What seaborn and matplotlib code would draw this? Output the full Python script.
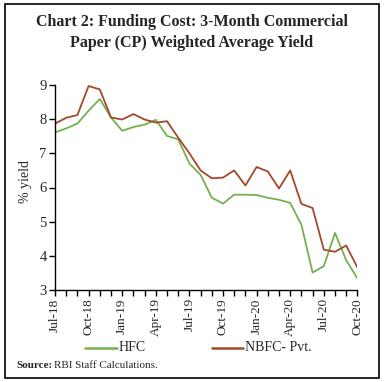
import matplotlib
matplotlib.use("Agg")
import matplotlib.pyplot as plt
import seaborn as sns
import pandas as pd
from matplotlib.patches import Rectangle
from matplotlib.lines import Line2D

months = ["Jul-18", "Aug-18", "Sep-18", "Oct-18", "Nov-18", "Dec-18",
          "Jan-19", "Feb-19", "Mar-19", "Apr-19", "May-19", "Jun-19",
          "Jul-19", "Aug-19", "Sep-19", "Oct-19", "Nov-19", "Dec-19",
          "Jan-20", "Feb-20", "Mar-20", "Apr-20", "May-20", "Jun-20",
          "Jul-20", "Aug-20", "Sep-20", "Oct-20"]
hfc = [7.61, 7.73, 7.87, 8.25, 8.59, 8.05, 7.66, 7.77, 7.84, 7.98,
       7.51, 7.41, 6.70, 6.37, 5.70, 5.53, 5.79, 5.79, 5.78, 5.70,
       5.64, 5.55, 4.91, 3.51, 3.70, 4.67, 3.87, 3.34]
nbfc = [7.87, 8.04, 8.12, 8.97, 8.87, 8.05, 7.99, 8.15, 7.99, 7.90,
        7.94, 7.46, 7.00, 6.50, 6.27, 6.29, 6.50, 6.06, 6.60, 6.47,
        5.97, 6.50, 5.52, 5.40, 4.18, 4.12, 4.30, 3.66]
series_names = ["HFC", "NBFC- Pvt."]
colors = ["#76B04E", "#A5482A"]
label_months = months[::3]
yticks = [3, 4, 5, 6, 7, 8, 9]

sns.set_style("white")
plt.rcParams['font.family'] = ['Liberation Serif', 'DejaVu Serif']

df = pd.DataFrame({
    "x": list(range(len(months))) * 2,
    "value": hfc + nbfc,
    "series": [series_names[0]] * len(months) + [series_names[1]] * len(months),
})

fig = plt.figure(figsize=(3.84, 3.82), dpi=100)
ax = fig.add_axes([55/384, 1 - 290/382, (357.4 - 55)/384, (290 - 85)/382])
sns.lineplot(data=df, x="x", y="value", hue="series", palette=colors,
             linewidth=1.3, legend=False, ax=ax)

ax.set_xlim(0, len(months) - 1)
ax.set_ylim(3, 9)
ax.set_yticks(yticks)
ax.set_yticklabels([str(v) for v in yticks], fontsize=10.5)
ax.set_xticks(range(len(months)))
ax.set_xticklabels([m if m in label_months else "" for m in months],
                   rotation=90, fontsize=9.5)
ax.tick_params(axis="both", direction="out", length=4, width=1, color="black",
               left=True, bottom=True, pad=2)
ax.set_xlabel("")
ax.set_ylabel("% yield", fontsize=10)
ax.yaxis.label.set_va("center")
ax.yaxis.set_label_coords((25 - 55) / (357.4 - 55), 0.53)
for s in ["top", "right"]:
    ax.spines[s].set_visible(False)
for s in ["left", "bottom"]:
    ax.spines[s].set_color("black")
    ax.spines[s].set_linewidth(1)

fig.text(0.5, 1 - 22/382, "Chart 2: Funding Cost: 3-Month Commercial",
         ha="center", va="center", fontsize=11.5, fontweight="bold")
fig.text(0.5, 1 - 43/382, "Paper (CP) Weighted Average Yield",
         ha="center", va="center", fontsize=11.5, fontweight="bold")

# legend
ly = 1 - 347.5/382
fig.add_artist(Line2D([85/384, 117/384], [ly, ly], color=colors[0], lw=1.8))
fig.text(119/384, ly, series_names[0], ha="left", va="center", fontsize=10)
fig.add_artist(Line2D([212/384, 243/384], [ly, ly], color=colors[1], lw=1.8))
fig.text(245/384, ly, series_names[1], ha="left", va="center", fontsize=10)

# source
sy = 1 - 365/382
t = fig.text(16/384, sy, "Source:", ha="left", va="center", fontsize=8, fontweight="bold")
fig.canvas.draw()
bb = t.get_window_extent()
fig.text(bb.x1/384 + 2/384, sy, "RBI Staff Calculations.", ha="left", va="center", fontsize=8)

fig.add_artist(Rectangle((4.5/384, 4/382), (379 - 4.5)/384, (378.5 - 4)/382,
                         transform=fig.transFigure, fill=False,
                         edgecolor="black", linewidth=1.2))

fig.savefig("out.png", dpi=100)
